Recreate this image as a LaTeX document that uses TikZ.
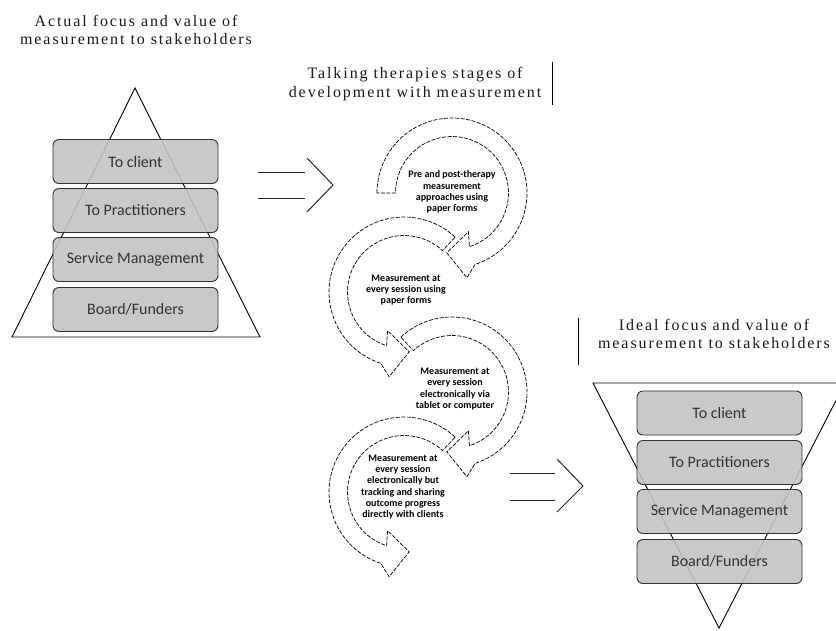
\documentclass[tikz,border=0pt]{standalone}
\usepackage{fontspec}
\setmainfont{Liberation Serif}
\newfontfamily\boxfont{Carlito}
\newfontfamily\titlefont[LetterSpace=12]{Liberation Serif}
\begin{document}
\begin{tikzpicture}[x=1pt,y=-1pt,
  stagebox/.style={draw=black!80, line width=0.9pt, rounded corners=6pt, fill=black!23, fill opacity=0.9, text opacity=1, minimum width=165pt, minimum height=44pt, inner sep=0pt, font=\boxfont\fontsize{16}{18}\selectfont, text=black!80},
  titletext/.style={align=center, font=\titlefont\fontsize{16}{18.5}\selectfont, text=black!90},
  cyclearrow/.style={draw=black, line width=0.7pt, dash pattern=on 4pt off 1.5pt, fill=white},
  arrowtext/.style={align=center, inner sep=0pt, font=\boxfont\bfseries\fontsize{10}{11.2}\selectfont},
  outline/.style={draw=black, line width=0.9pt},
  bigarrow/.style={draw=black!85, line width=1pt},
  bar/.style={draw=black, line width=1pt}
]
\path[use as bounding box, fill=white] (0,0) rectangle (836,630);

% ---------- titles ----------
\node[titletext] (t1) at (136,30) {Actual focus and value of\\measurement to stakeholders};
\node[titletext] (t2) at (415,84) {Talking therapies stages of\\development with measurement};
\node[titletext] (t3) at (714,334) {Ideal focus and value of\\measurement to stakeholders};
\draw[bar] (552,62) -- (552,105);
\draw[bar] (578,318) -- (578,365);

% ---------- left pyramid ----------
\coordinate (lp1) at (135,88);
\coordinate (lp2) at (260,337);
\coordinate (lp3) at (12,337);
\draw[outline] (lp1) -- (lp2) -- (lp3) -- cycle;
\node[stagebox] (l1) at (135.5,161.5) {To client};
\node[stagebox] (l2) at (135.5,210.5) {To Practitioners};
\node[stagebox] (l3) at (135.5,259.5) {Service Management};
\node[stagebox] (l4) at (135.5,309.5) {Board/Funders};

% ---------- right inverted pyramid ----------
\coordinate (rp1) at (836,400.5);
\coordinate (rp2) at (719,628);
\coordinate (rp3) at (593,383);
\coordinate (rp4) at (836,383);
\draw[outline] (rp1) -- (rp2) -- (rp3) -- (rp4);
\node[stagebox] (r1) at (719.5,413) {To client};
\node[stagebox] (r2) at (719.5,462.5) {To Practitioners};
\node[stagebox] (r3) at (719.5,511.5) {Service Management};
\node[stagebox] (r4) at (719.5,561.5) {Board/Funders};

% ---------- double arrows ----------
\draw[bigarrow] (258,172) -- (305,172);
\draw[bigarrow] (258,198) -- (305,198);
\draw[bigarrow] (307,158) -- (333,185) -- (307,212);
\draw[bigarrow] (510,473) -- (555,473);
\draw[bigarrow] (510,500) -- (555,500);
\draw[bigarrow] (557,459) -- (583,486) -- (557,512);

% ---------- circular stage arrows ----------
% type B (counter-clockwise on screen), arrow 4
\begin{scope}[shift={(404,492)}]
\path[cyclearrow] (-47:75) arc[start angle=-47, end angle=-252, radius=75]
  -- (-14.9,84.7) -- (5.2,59.8) -- (-16.4,38.7) -- (-252:56.5)
  arc[start angle=-252, end angle=-47, radius=56.5] -- cycle;
\end{scope}
% type A, arrow 3
\begin{scope}[shift={(452,392)}]
\path[cyclearrow] (227:75) arc[start angle=227, end angle=432, radius=75]
  -- (14.9,84.7) -- (-5.2,59.8) -- (16.4,38.7) -- (432:56.5)
  arc[start angle=432, end angle=227, radius=56.5] -- cycle;
\end{scope}
% type B, arrow 2
\begin{scope}[shift={(404,292)}]
\path[cyclearrow] (-47:75) arc[start angle=-47, end angle=-252, radius=75]
  -- (-14.9,84.7) -- (5.2,59.8) -- (-16.4,38.7) -- (-252:56.5)
  arc[start angle=-252, end angle=-47, radius=56.5] -- cycle;
\end{scope}
% type A, arrow 1
\begin{scope}[shift={(452,193)}]
\path[cyclearrow] (180:75) arc[start angle=180, end angle=432, radius=75]
  -- (14.9,84.7) -- (-5.2,59.8) -- (16.4,38.7) -- (432:56.5)
  arc[start angle=432, end angle=180, radius=56.5] -- cycle;
\end{scope}

\node[arrowtext] (s1) at (452,192) {Pre and post-therapy\\measurement\\approaches using\\paper forms};
\node[arrowtext] (s2) at (406,290) {Measurement at\\every session using\\paper forms};
\node[arrowtext] (s3) at (455,389) {Measurement at\\every session\\electronically via\\tablet or computer};
\node[arrowtext] (s4) at (403,487) {Measurement at\\every session\\electronically but\\tracking and sharing\\outcome progress\\directly with clients};
\end{tikzpicture}
\end{document}
